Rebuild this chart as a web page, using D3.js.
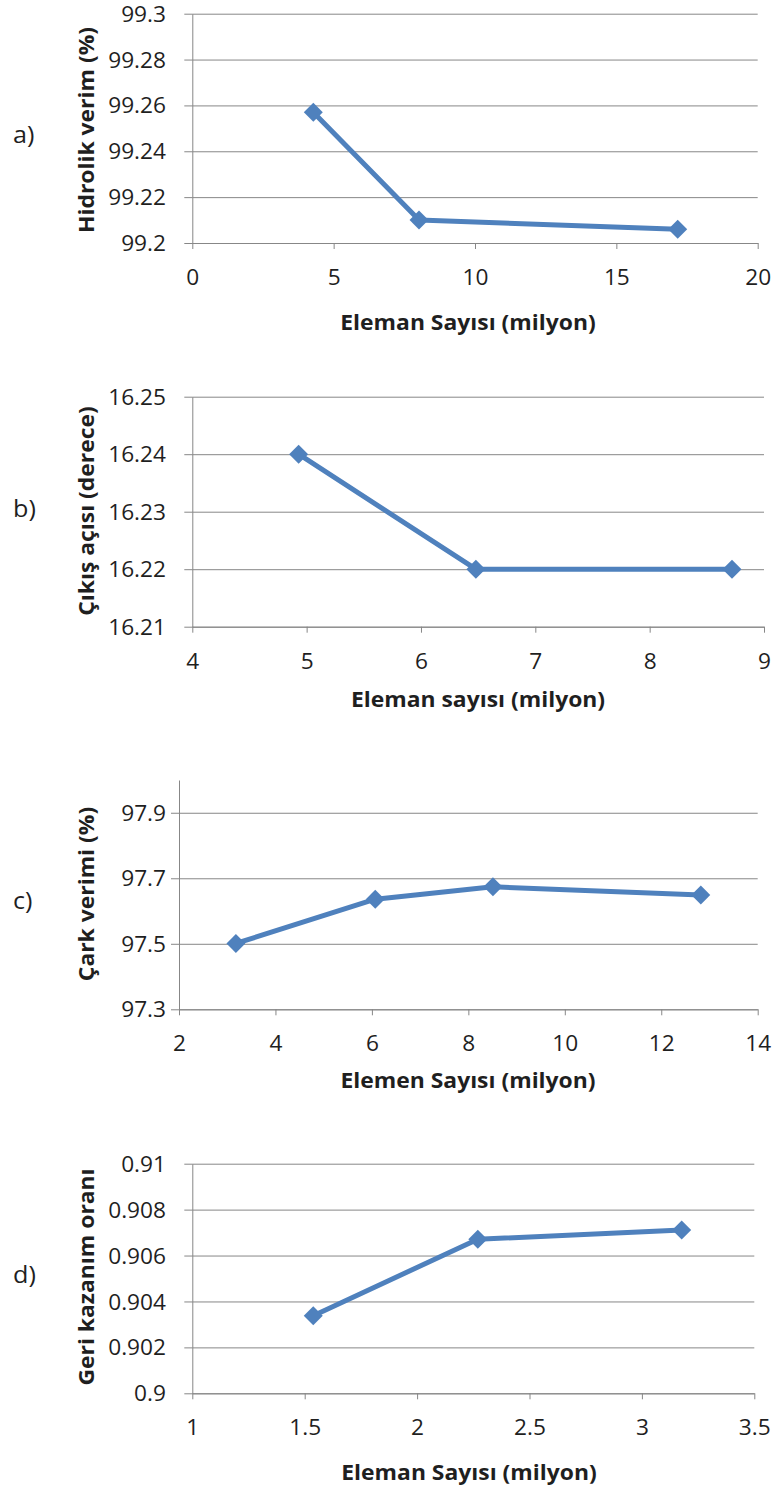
<!DOCTYPE html>
<html><head><meta charset="utf-8">
<script src="https://cdn.jsdelivr.net/npm/d3@7"></script>
<style>
body{margin:0;background:#fff}
text{font-family:"Open Sans",sans-serif;fill:#1f1f1f}
</style>
</head><body>
<svg id="chart" width="774" height="1485"></svg>
<script>
// ---- data ----
const aX = [4.28, 8.02, 17.17];
const aY = [99.257, 99.21, 99.206];
const bX = [4.93, 6.48, 8.72];
const bY = [16.24, 16.22, 16.22];
const cX = [3.18, 6.07, 8.51, 12.82];
const cY = [97.501, 97.636, 97.674, 97.649];
const dX = [1.538, 2.27, 3.177];
const dY = [0.90338, 0.90671, 0.90711];

// ---- ticks ----
const aXTicks = [0, 5, 10, 15, 20];
const aXLabels = ["0", "5", "10", "15", "20"];
const aYTicks = [99.2, 99.22, 99.24, 99.26, 99.28, 99.3];
const aYLabels = ["99.2", "99.22", "99.24", "99.26", "99.28", "99.3"];
const bXTicks = [4, 5, 6, 7, 8, 9];
const bXLabels = ["4", "5", "6", "7", "8", "9"];
const bYTicks = [16.21, 16.22, 16.23, 16.24, 16.25];
const bYLabels = ["16.21", "16.22", "16.23", "16.24", "16.25"];
const cXTicks = [2, 4, 6, 8, 10, 12, 14];
const cXLabels = ["2", "4", "6", "8", "10", "12", "14"];
const cYTicks = [97.3, 97.5, 97.7, 97.9];
const cYLabels = ["97.3", "97.5", "97.7", "97.9"];
const dXTicks = [1, 1.5, 2, 2.5, 3, 3.5];
const dXLabels = ["1", "1.5", "2", "2.5", "3", "3.5"];
const dYTicks = [0.9, 0.902, 0.904, 0.906, 0.908, 0.91];
const dYLabels = ["0.9", "0.902", "0.904", "0.906", "0.908", "0.91"];

// ---- texts ----
const panelLabels = ["a)", "b)", "c)", "d)"];
const yTitles = ["Hidrolik verim (%)", "Çıkış açısı (derece)", "Çark verimi (%)", "Geri kazanım oranı"];
const xTitles = ["Eleman Sayısı (milyon)", "Eleman sayısı (milyon)", "Elemen Sayısı (milyon)", "Eleman Sayısı (milyon)"];

const panels = [
  {xs:aX, ys:aY, xd:[0,20], yd:[99.2,99.3], xt:aXTicks, xl:aXLabels, yt:aYTicks, yl:aYLabels,
   l:192.3, r:757.7, t:13.7, b:243, titleX:468, titleBase:330, yTitleCy:130, labelCy:137},
  {xs:bX, ys:bY, xd:[4,9], yd:[16.21,16.25], xt:bXTicks, xl:bXLabels, yt:bYTicks, yl:bYLabels,
   l:192.3, r:764, t:396.7, b:626.7, titleX:478, titleBase:707, yTitleCy:511, labelCy:511},
  {xs:cX, ys:cY, xd:[2,14], yd:[97.3,98.0], xt:cXTicks, xl:cXLabels, yt:cYTicks, yl:cYLabels,
   l:179, r:757.7, t:780, b:1009.3, titleX:468, titleBase:1088, yTitleCy:894, labelCy:903},
  {xs:dX, ys:dY, xd:[1,3.5], yd:[0.9,0.91], xt:dXTicks, xl:dXLabels, yt:dYTicks, yl:dYLabels,
   l:192.3, r:754.3, t:1163.7, b:1393.3, titleX:469, titleBase:1480, yTitleCy:1277, labelCy:1277}
];

const SX = 1.08, TSX = 1.09;
const GRID = "#878787", BLUE = "#4F81BD";
const svg = d3.select("#chart");

panels.forEach((p, k) => {
  const g = svg.append("g");
  const x = d3.scaleLinear().domain(p.xd).range([p.l, p.r]);
  const y = d3.scaleLinear().domain(p.yd).range([p.b, p.t]);

  // gridlines
  const grid = g.append("g").attr("transform", `translate(${p.l},0)`)
    .call(d3.axisLeft(y).tickValues(p.yt).tickSizeInner(-(p.r - p.l)).tickSizeOuter(0).tickFormat(""));
  grid.select(".domain").remove();
  grid.selectAll("line").attr("stroke", GRID).attr("stroke-width", 1);

  // y axis
  const ya = g.append("g").attr("transform", `translate(${p.l},0)`)
    .call(d3.axisLeft(y).tickValues(p.yt).tickSizeInner(8).tickSizeOuter(0).tickFormat((d, i) => p.yl[i]))
    .attr("font-family", null).attr("font-size", null);
  ya.select(".domain").attr("stroke", GRID);
  ya.selectAll("line").attr("stroke", GRID);
  ya.selectAll("text").attr("font-size", 21).attr("x", -(p.l - 166) / SX).attr("dy", "0.36em")
    .attr("transform", `scale(${SX},1)`);

  // x axis
  const xa = g.append("g").attr("transform", `translate(0,${p.b})`)
    .call(d3.axisBottom(x).tickValues(p.xt).tickSizeInner(6).tickSizeOuter(0).tickFormat((d, i) => p.xl[i]))
    .attr("font-family", null).attr("font-size", null);
  xa.select(".domain").attr("stroke", GRID);
  xa.selectAll("line").attr("stroke", GRID);
  xa.selectAll("text").attr("font-size", 21).attr("y", 42).attr("dy", 0)
    .attr("transform", `scale(${SX},1)`);

  // line
  const pts = p.xs.map((v, i) => [v, p.ys[i]]);
  g.append("path").datum(pts)
    .attr("d", d3.line().x(d => x(d[0])).y(d => y(d[1])))
    .attr("fill", "none").attr("stroke", BLUE).attr("stroke-width", 5)
    .attr("stroke-linejoin", "round").attr("stroke-linecap", "round");

  // markers
  g.selectAll(".m").data(pts).join("path")
    .attr("d", d3.symbol(d3.symbolSquare, 180)())
    .attr("transform", d => `translate(${x(d[0])},${y(d[1])}) rotate(45)`)
    .attr("fill", BLUE);

  // titles
  g.append("text").text(xTitles[k]).attr("font-weight", "bold").attr("font-size", 21)
    .attr("text-anchor", "middle")
    .attr("transform", `translate(${p.titleX},${p.titleBase}) scale(${TSX},1)`);
  g.append("text").text(yTitles[k]).attr("font-weight", "bold").attr("font-size", 21)
    .attr("text-anchor", "middle")
    .attr("transform", `translate(94,${p.yTitleCy}) rotate(-90) scale(${TSX},1)`);
  g.append("text").text(panelLabels[k]).attr("font-size", 24)
    .attr("transform", `translate(13,${p.labelCy + 6}) scale(1.05,1)`);
});
</script>
</body></html>
